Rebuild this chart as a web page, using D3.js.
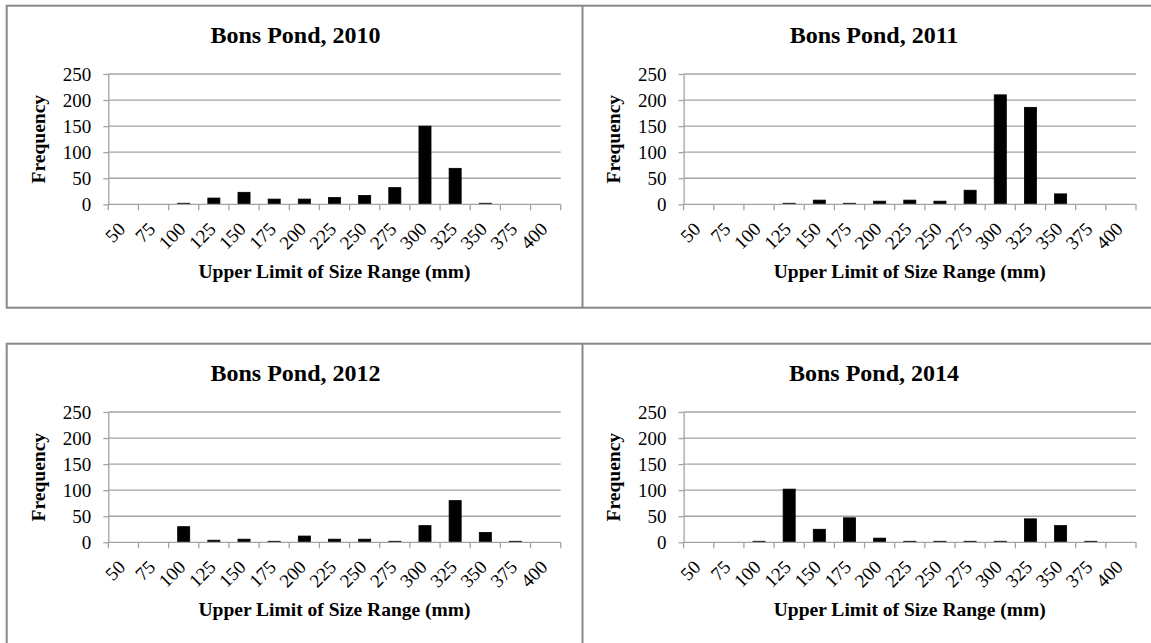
<!DOCTYPE html>
<html>
<head>
<meta charset="utf-8">
<script src="https://cdn.jsdelivr.net/npm/d3@7"></script>
<style>
  html, body { margin: 0; padding: 0; background: #fff; }
  svg { display: block; }
  text { font-family: "Liberation Serif", "Times New Roman", serif; fill: #000; }
</style>
</head>
<body>
<svg id="chart" width="1151" height="643"></svg>
<script>
// ---------- data ----------
const categories = ["50","75","100","125","150","175","200","225","250","275","300","325","350","375","400"];
const freq2010 = [0, 0, 2, 12, 23, 10, 10, 13, 17, 32, 150, 69, 2, 0, 0];
const freq2011 = [0, 0, 0, 2, 8, 2, 6, 8, 6, 27, 210, 186, 20, 0, 0];
const freq2012 = [0, 0, 30, 4, 6, 2, 12, 6, 6, 2, 32, 80, 19, 2, 0];
const freq2014 = [0, 0, 2, 102, 25, 47, 8, 2, 2, 2, 2, 45, 32, 2, 0];
const titles = ["Bons Pond, 2010", "Bons Pond, 2011", "Bons Pond, 2012", "Bons Pond, 2014"];
const yTicks = [0, 50, 100, 150, 200, 250];
const xAxisTitle = "Upper Limit of Size Range (mm)";
const yAxisTitle = "Frequency";

const panels = [
  { title: titles[0], values: freq2010, col: 0, row: 0 },
  { title: titles[1], values: freq2011, col: 1, row: 0 },
  { title: titles[2], values: freq2012, col: 0, row: 1 },
  { title: titles[3], values: freq2014, col: 1, row: 1 }
];

// ---------- layout ----------
const svg = d3.select("#chart");
const colOffset = [0, 575.3];
const rowOffset = [0, 338];
const titleCenter = [295.5, 874];
const plotLeft = 108.3, plotRight = 560.7, plotTop = 74, plotBottom = 204.3;
const borderColor = "#888888";
const gridColor = "#a3a3a3";
const serif = "'Liberation Serif', 'Times New Roman', serif";

// panel frames
const frame = svg.append("g").attr("fill", "none").attr("stroke", borderColor).attr("stroke-width", 2);
frame.append("rect").attr("x", 6.7).attr("y", 5.7).attr("width", 1151 + 10).attr("height", 302);
frame.append("line").attr("x1", 582.5).attr("x2", 582.5).attr("y1", 5.7).attr("y2", 307.7);
frame.append("rect").attr("x", 6.7).attr("y", 343.7).attr("width", 1151 + 10).attr("height", 400);
frame.append("line").attr("x1", 582.5).attr("x2", 582.5).attr("y1", 343.7).attr("y2", 650);

const x = d3.scaleBand().domain(categories).range([plotLeft, plotRight]).paddingInner(0.6).paddingOuter(0.3);
const y = d3.scaleLinear().domain([0, 250]).range([plotBottom, plotTop]);

panels.forEach(p => {
  const g = svg.append("g").attr("transform", `translate(${colOffset[p.col]},${rowOffset[p.row]})`);

  // gridlines
  g.append("g").selectAll("line").data(yTicks.filter(t => t > 0)).join("line")
    .attr("x1", plotLeft).attr("x2", plotRight)
    .attr("y1", d => y(d)).attr("y2", d => y(d))
    .attr("stroke", gridColor).attr("stroke-width", 1.3);

  // y axis
  const ya = g.append("g").attr("transform", `translate(${plotLeft},0)`)
    .call(d3.axisLeft(y).tickValues(yTicks).tickSize(5).tickSizeOuter(0).tickPadding(12));
  ya.attr("font-family", null).attr("font-size", null);
  ya.select(".domain").attr("stroke", gridColor).attr("stroke-width", 1.3);
  ya.selectAll(".tick line").attr("stroke", gridColor).attr("stroke-width", 1.3);
  ya.selectAll(".tick text").style("font-family", serif).style("font-size", "19px").attr("fill", "#000");

  // bars
  g.append("g").selectAll("rect").data(p.values).join("rect")
    .attr("x", (d, i) => x(categories[i]))
    .attr("width", x.bandwidth())
    .attr("y", d => y(d))
    .attr("height", d => y(0) - y(d))
    .attr("fill", "#000")
    .attr("stroke", d => d > 0 ? "#000" : "none")
    .attr("stroke-width", 0.8);

  // x axis baseline and boundary ticks
  const step = x.step();
  const bounds = d3.range(categories.length + 1).map(i => plotLeft + i * step);
  g.append("line").attr("x1", plotLeft).attr("x2", plotRight).attr("y1", plotBottom).attr("y2", plotBottom)
    .attr("stroke", gridColor).attr("stroke-width", 1.3);
  g.append("g").selectAll("line").data(bounds).join("line")
    .attr("x1", d => d).attr("x2", d => d).attr("y1", plotBottom).attr("y2", plotBottom + 6)
    .attr("stroke", gridColor).attr("stroke-width", 1.3);

  // x tick labels (rotated)
  const xa = g.append("g").attr("transform", `translate(0,${plotBottom})`)
    .call(d3.axisBottom(x).tickSize(0).tickSizeOuter(0));
  xa.attr("font-family", null).attr("font-size", null);
  xa.select(".domain").remove();
  xa.selectAll(".tick text")
    .style("font-family", serif).style("font-size", "19px").attr("fill", "#000")
    .attr("text-anchor", "end")
    .attr("x", 0).attr("y", 0).attr("dy", 0)
    .attr("transform", "translate(3,26) rotate(-45)");

  // chart title
  g.append("text")
    .attr("x", titleCenter[p.col] - colOffset[p.col]).attr("y", 43.3)
    .attr("text-anchor", "middle")
    .style("font-family", serif).style("font-weight", "bold").style("font-size", "24px")
    .text(p.title);

  // x axis title
  g.append("text")
    .attr("x", (plotLeft + plotRight) / 2).attr("y", 278)
    .attr("text-anchor", "middle")
    .style("font-family", serif).style("font-weight", "bold").style("font-size", "19.5px")
    .text(xAxisTitle);

  // y axis title
  g.append("text")
    .attr("transform", `translate(44.5,${(plotTop + plotBottom) / 2}) rotate(-90)`)
    .attr("text-anchor", "middle")
    .style("font-family", serif).style("font-weight", "bold").style("font-size", "19.5px")
    .text(yAxisTitle);
});
</script>
</body>
</html>
